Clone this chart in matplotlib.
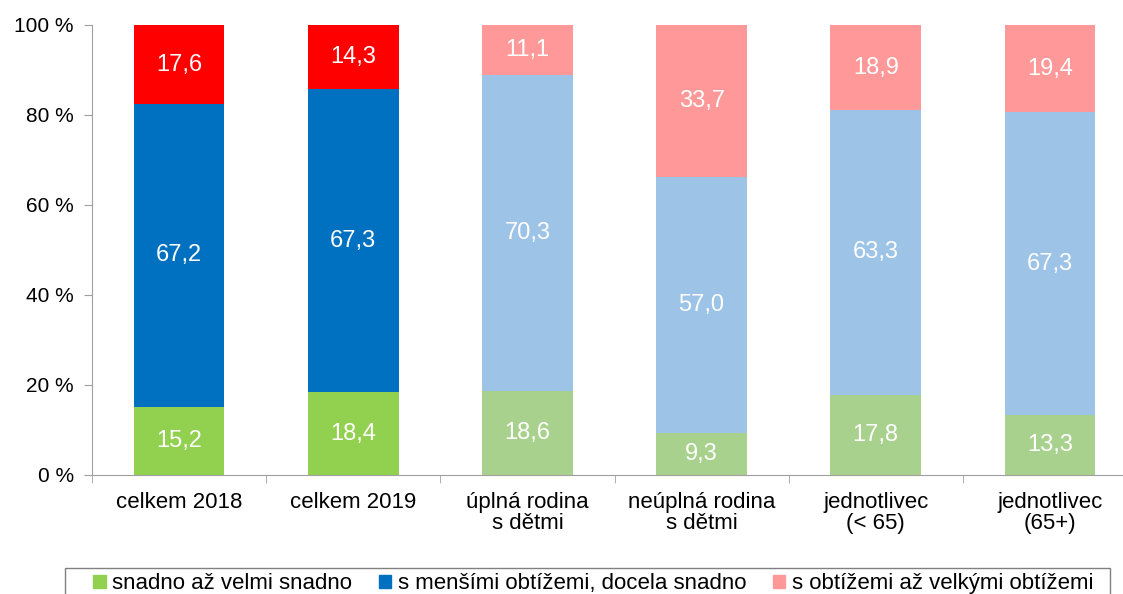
import numpy as np
import matplotlib.pyplot as plt

plt.rcParams['font.family'] = ['Liberation Sans', 'DejaVu Sans']

categories = ["celkem 2018", "celkem 2019", "úplná rodina\ns dětmi",
              "neúplná rodina\ns dětmi", "jednotlivec\n(< 65)", "jednotlivec\n(65+)"]
snadno = [15.2, 18.4, 18.6, 9.3, 17.8, 13.3]
mensi = [67.2, 67.3, 70.3, 57.0, 63.3, 67.3]
obtize = [17.6, 14.3, 11.1, 33.7, 18.9, 19.4]
series_names = ["snadno až velmi snadno", "s menšími obtížemi, docela snadno",
                "s obtížemi až velkými obtížemi"]

# first two bars use the strong palette, the rest the light one
green = ['#92D050'] * 2 + ['#A9D18E'] * 4
blue = ['#0070C0'] * 2 + ['#9DC3E6'] * 4
red = ['#FF0000'] * 2 + ['#FF9999'] * 4
legend_colors = ['#92D050', '#0070C0', '#FF9999']

fig = plt.figure(figsize=(11.23, 5.94), dpi=100)
ax = fig.add_axes([92 / 1123, 119 / 594, 1045 / 1123, 450 / 594])

x = np.arange(len(categories))
w = 0.52
bottom = np.zeros(len(x))
for vals, cols in [(snadno, green), (mensi, blue), (obtize, red)]:
    vals = np.array(vals)
    ax.bar(x, vals, w, bottom=bottom, color=cols, edgecolor='none')
    for xi, b, v in zip(x, bottom, vals):
        ax.text(xi, b + v / 2, f"{v:.1f}".replace('.', ','), ha='center', va='center',
                color='white', fontsize=17)
    bottom += vals

ax.set_xlim(-0.5, len(x) - 0.5)
ax.set_ylim(0, 100)
ax.set_yticks(range(0, 101, 20))
ax.set_yticklabels([f"{v} %" for v in range(0, 101, 20)], fontsize=15)
ax.set_xticks(x)
ax.set_xticklabels(categories, fontsize=16, linespacing=1.0)
ax.set_xticks(np.arange(-0.5, len(x)), minor=True)
ax.tick_params(axis='x', which='major', length=0, pad=12)
ax.tick_params(axis='x', which='minor', length=6, color='#A0A0A0')
ax.tick_params(axis='y', length=6, color='#A0A0A0', pad=7)
for s in ['top', 'right']:
    ax.spines[s].set_visible(False)
for s in ['left', 'bottom']:
    ax.spines[s].set_color('#A0A0A0')

# legend box runs off the bottom edge like in the original
frame = plt.Rectangle((65 / 1123, -0.1), (1110 - 65) / 1123, 0.1 + 1 - 568 / 594,
                      transform=fig.transFigure, fill=False,
                      edgecolor='#808080', linewidth=1)
fig.patches.append(frame)

handles = [plt.Rectangle((0, 0), 1, 1, color=c) for c in legend_colors]
leg = fig.legend(handles, series_names, loc='upper left', ncol=3,
                 bbox_to_anchor=(89 / 1123, 1 - 569 / 594), borderaxespad=0,
                 fontsize=16, frameon=False,
                 handlelength=0.55, handleheight=0.55, handletextpad=0.3,
                 columnspacing=1.2, borderpad=0.2)

fig.savefig('out.png', dpi=100)
